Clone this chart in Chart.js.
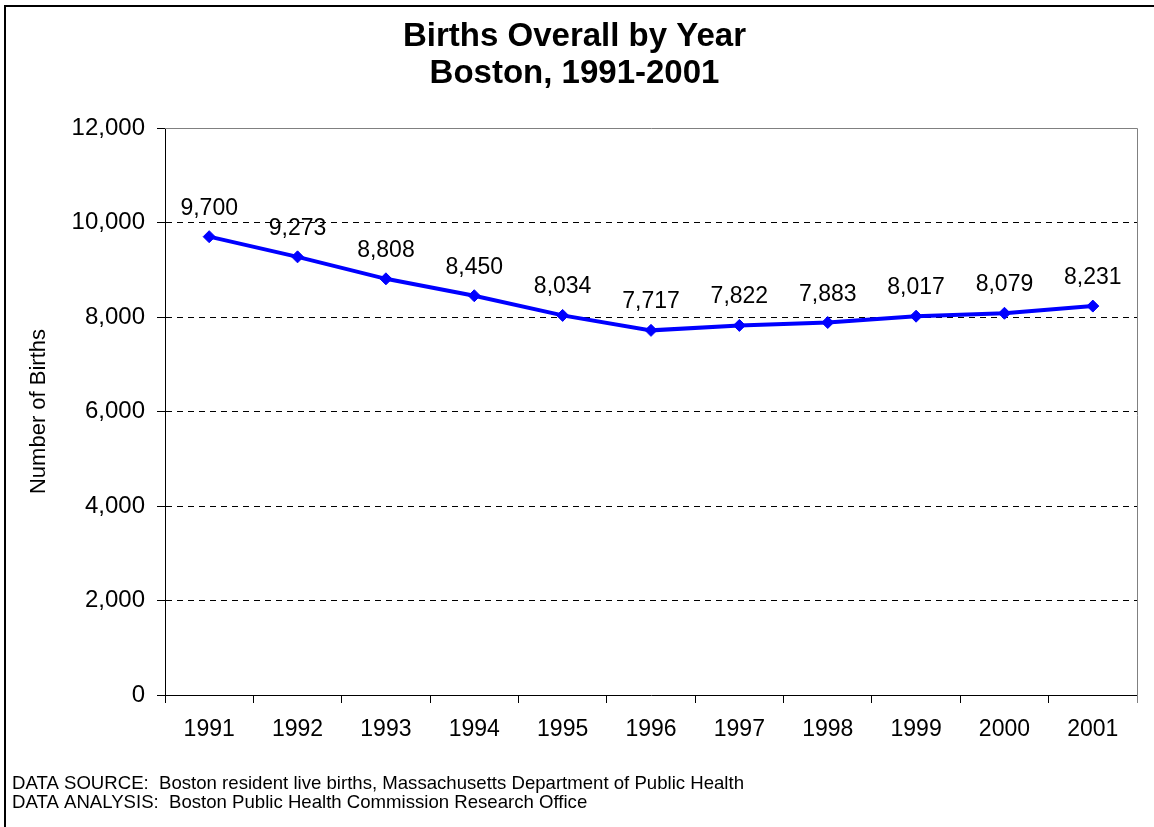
<!DOCTYPE html>
<html>
<head>
<meta charset="utf-8">
<title>Births Overall by Year</title>
<script src="https://cdn.jsdelivr.net/npm/chart.js@4/dist/chart.umd.min.js"></script>
<style>
  body { margin: 0; background: #fff; }
  canvas { display: block; }
</style>
</head>
<body>
<canvas id="birthsChart" width="1154" height="827"></canvas>
<script>
const years = ['1991', '1992', '1993', '1994', '1995', '1996', '1997', '1998', '1999', '2000', '2001'];
const births = [9700, 9273, 8808, 8450, 8034, 7717, 7822, 7883, 8017, 8079, 8231];
const yTicks = [0, 2000, 4000, 6000, 8000, 10000, 12000];
const titleLines = ['Births Overall by Year', 'Boston, 1991-2001'];
const footnoteLines = [
    'DATA SOURCE:  Boston resident live births, Massachusetts Department of Public Health',
    'DATA ANALYSIS:  Boston Public Health Commission Research Office'
];

const FONT = 'Liberation Sans, Arial, Helvetica, sans-serif';

// white page + the black frame round the whole chart
const framePlugin = {
    id: 'frame',
    beforeDraw(chart) {
        const ctx = chart.ctx;
        ctx.save();
        ctx.fillStyle = '#fff';
        ctx.fillRect(0, 0, chart.width, chart.height);
        ctx.strokeStyle = '#000';
        ctx.lineWidth = 2;
        ctx.strokeRect(5, 6, chart.width + 20, chart.height + 20);
        ctx.restore();
    },
    beforeDatasetsDraw(chart) {
        const { ctx, chartArea } = chart;
        ctx.save();
        ctx.strokeStyle = '#808080';
        ctx.lineWidth = 1;
        ctx.beginPath();
        ctx.moveTo(chartArea.left, chartArea.top + 0.5);
        ctx.lineTo(chartArea.right + 0.5, chartArea.top + 0.5);
        ctx.lineTo(chartArea.right + 0.5, chartArea.bottom + 8);
        ctx.stroke();
        ctx.restore();
    }
};

// value labels above each point
const valueLabels = {
    id: 'valueLabels',
    afterDatasetsDraw(chart) {
        const ctx = chart.ctx;
        const meta = chart.getDatasetMeta(0);
        ctx.save();
        ctx.font = '23px ' + FONT;
        ctx.fillStyle = '#000';
        ctx.textAlign = 'center';
        ctx.textBaseline = 'alphabetic';
        meta.data.forEach((pt, i) => {
            ctx.fillText(births[i].toLocaleString('en-US'), pt.x, pt.y - 22);
        });
        ctx.restore();
    }
};

new Chart(document.getElementById('birthsChart'), {
    type: 'line',
    data: {
        labels: years,
        datasets: [{
            label: 'Births',
            data: births,
            borderColor: '#0000ff',
            backgroundColor: '#0000ff',
            borderWidth: 4,
            pointStyle: 'rectRot',
            pointRadius: 6,
            pointBorderWidth: 1,
            tension: 0,
            fill: false
        }]
    },
    options: {
        responsive: false,
        animation: false,
        events: [],
        layout: { padding: { left: 12, right: 17, top: 0, bottom: 15 } },
        plugins: {
            legend: { display: false },
            tooltip: { enabled: false },
            title: {
                display: true,
                text: titleLines,
                color: '#000',
                font: { family: FONT, size: 33, weight: 'bold', lineHeight: '37px' },
                padding: { top: 18.5, bottom: 35.5 }
            },
            subtitle: {
                display: true,
                position: 'bottom',
                align: 'start',
                text: footnoteLines,
                color: '#000',
                font: { family: FONT, size: 18.6, lineHeight: '19px' },
                padding: { top: 0, bottom: 0 }
            }
        },
        scales: {
            x: {
                offset: true,
                grid: {
                    offset: true,
                    drawOnChartArea: false,
                    tickLength: 8,
                    tickColor: '#000'
                },
                border: { display: true, color: '#000', width: 1 },
                ticks: {
                    color: '#000',
                    padding: 13,
                    maxRotation: 0,
                    font: { family: FONT, size: 23 }
                },
                afterFit(scale) { scale.height = 79; }
            },
            y: {
                min: 0,
                max: 12000,
                afterBuildTicks(scale) {
                    scale.ticks = yTicks.map(v => ({ value: v }));
                },
                grid: {
                    color: c => (c.tick && (c.tick.value === 0 || c.tick.value === 12000)) ? 'rgba(0,0,0,0)' : '#000',
                    tickColor: '#000',
                    tickLength: 8,
                    lineWidth: 1
                },
                border: { display: true, color: '#000', width: 1, dash: [6, 5] },
                ticks: {
                    color: '#000',
                    padding: 12,
                    font: { family: FONT, size: 24 },
                    callback: v => Number(v).toLocaleString('en-US')
                },
                title: {
                    display: true,
                    text: 'Number of Births',
                    color: '#000',
                    font: { family: FONT, size: 22 },
                    padding: { top: 13.5, bottom: 0 }
                },
                afterFit(scale) { scale.width = 153; }
            }
        }
    },
    plugins: [framePlugin, valueLabels]
});
</script>
</body>
</html>
